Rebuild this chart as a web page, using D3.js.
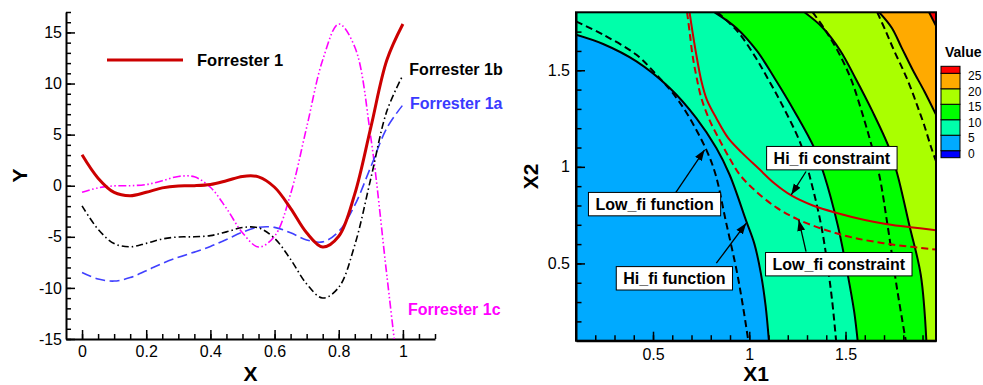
<!DOCTYPE html>
<html>
<head>
<meta charset="utf-8">
<script src="https://cdn.jsdelivr.net/npm/d3@7"></script>
<style>
  html, body { margin: 0; padding: 0; background: #fff; }
  svg { display: block; font-family: "Liberation Sans", Arial, Helvetica, sans-serif; }
</style>
</head>
<body>
<svg id="chart" width="983" height="385"></svg>
<script>
// ---------------- Forrester test functions (left panel) ----------------
const xValues = [0, 0.05, 0.1, 0.15, 0.2, 0.25, 0.3, 0.35, 0.4, 0.45, 0.5,
                 0.55, 0.6, 0.65, 0.7, 0.75, 0.8, 0.85, 0.9, 0.95, 1];
const forrester1  = [3.027, 0.738, -0.657, -0.978, -0.640, -0.210, -0.016, 0.002, 0.115, 0.483, 0.909,
                     0.871, -0.149, -2.209, -4.606, -5.993, -4.949, -0.799, 5.712, 12.303, 15.830];
const forrester1a = [-8.487, -9.131, -9.329, -8.989, -8.320, -7.605, -7.008, -6.499, -5.943, -5.259, -4.545,
                     -4.064, -4.075, -4.605, -5.303, -5.497, -4.475, -1.900, 1.856, 5.652, 7.915];
const forrester1b = [-1.973, -4.262, -5.657, -5.978, -5.640, -5.210, -5.016, -4.998, -4.885, -4.517, -4.091,
                     -4.129, -5.149, -7.209, -9.606, -10.993, -9.949, -5.799, 0.712, 7.303, 10.830];
const forrester1c = [-0.640, -0.210, -0.016, 0.002, 0.115, 0.483, 0.909, 0.871, -0.149, -2.209, -4.606,
                     -5.993, -4.949, -0.799, 5.712, 12.303, 15.830, 13.580, 4.717, -8.800, -22.380];
const yTicksLeft = [-15, -10, -5, 0, 5, 10, 15];
const xTicksLeft = [0, 0.2, 0.4, 0.6, 0.8, 1];

// ---------------- Contour panel: isolines in (X1, X2) ----------------
const hiFi5  = [[0.1,1.684],[0.241,1.636],[0.414,1.546],[0.587,1.408],[0.725,1.252],[0.829,1.097],
                [0.898,0.959],[0.984,0.72],[1.027,0.60],[1.06,0.45],[1.085,0.28],[1.102,0.1]];
const hiFi10 = [[0.82,1.8],[0.933,1.719],[1.04,1.60],[1.131,1.46],[1.235,1.287],[1.338,1.097],
                [1.39,0.955],[1.459,0.70],[1.51,0.45],[1.545,0.25],[1.563,0.1]];
const hiFi15 = [[1.287,1.8],[1.383,1.719],[1.474,1.60],[1.551,1.46],[1.64,1.287],[1.727,1.097],
                [1.77,0.959],[1.831,0.70],[1.891,0.44],[1.92,0.1]];
const hiFi20 = [[1.675,1.8],[1.74,1.72],[1.79,1.62],[1.85,1.50],[1.91,1.39],[1.97,1.27]];
const hiFi25 = [[1.934,1.8],[1.97,1.73]];

const loFi5  = [[0.1,1.753],[0.241,1.684],[0.414,1.58],[0.518,1.477],[0.60,1.385],[0.674,1.28],
                [0.777,1.088],[0.825,0.96],[0.878,0.72],[0.935,0.46],[0.967,0.28],[0.995,0.1]];
const loFi10 = [[0.835,1.8],[0.94,1.70],[1.035,1.563],[1.10,1.45],[1.166,1.33],[1.269,1.114],
                [1.312,0.959],[1.373,0.70],[1.425,0.354],[1.451,0.1]];
const loFi15 = [[1.33,1.8],[1.40,1.70],[1.47,1.58],[1.53,1.45],[1.58,1.30],[1.63,1.13],
                [1.675,0.959],[1.718,0.70],[1.77,0.354],[1.813,0.1]];
const loFi20 = [[1.665,1.8],[1.71,1.70],[1.753,1.60],[1.80,1.50],[1.839,1.408],[1.875,1.31],
                [1.908,1.218],[1.945,1.10],[1.97,1.03]];

const hiConstraint = [[0.69,1.8],[0.705,1.70],[0.725,1.58],[0.75,1.45],[0.78,1.347],[0.829,1.252],
                      [0.89,1.15],[0.96,1.075],[1.05,0.99],[1.13,0.915],[1.218,0.852],[1.33,0.80],
                      [1.459,0.76],[1.6,0.725],[1.718,0.703],[1.85,0.686],[1.97,0.672]];
const loConstraint = [[0.677,1.8],[0.69,1.70],[0.705,1.58],[0.725,1.47],[0.75,1.36],[0.79,1.25],
                      [0.84,1.15],[0.9,1.04],[0.95,0.96],[1.027,0.88],[1.14,0.79],[1.252,0.728],
                      [1.4,0.672],[1.546,0.632],[1.75,0.597],[1.97,0.572]];

const contourLevels = [0, 5, 10, 15, 20, 25];
const xTicksRight = [0.5, 1, 1.5];
const yTicksRight = [0.5, 1, 1.5];

const annotations = [
  { text: "Hi_fi constraint",  at: [1.429, 1.045], from: [1.295, 0.976], to: [1.218, 0.855] },
  { text: "Low_fi constraint", at: [1.465, 0.496], from: [1.295, 0.561], to: [1.257, 0.725] },
  { text: "Low_fi function",   at: [0.508, 0.807], from: [0.618, 0.867], to: [0.768, 1.088] },
  { text: "Hi_fi function",    at: [0.611, 0.423], from: [0.829, 0.501], to: [0.984, 0.708] }
];

// ======================================================================
const svg = d3.select("#chart");
const FONT = '"Liberation Sans", Arial, Helvetica, sans-serif';
const defs = svg.append("defs");

function styleAxis(g, size) {
  g.selectAll("text").attr("font-size", size).attr("font-family", FONT).attr("fill", "#000");
  g.selectAll(".tick line").attr("stroke", "#000").attr("stroke-width", 1.5);
  g.select(".domain").attr("stroke", "#000").attr("stroke-width", 2);
}

// ---------------- Left panel ----------------
const L = { left: 66, right: 435, top: 12, bottom: 339 };
const xL = d3.scaleLinear().domain([-0.05, 1.1]).range([L.left, L.right]);
const yL = d3.scaleLinear().domain([-15, 17]).range([L.bottom, L.top]);

defs.append("clipPath").attr("id", "clipL").append("rect")
  .attr("x", L.left).attr("y", L.top)
  .attr("width", L.right - L.left).attr("height", L.bottom - L.top);

const gL = svg.append("g");

// minor ticks
gL.append("g").attr("transform", `translate(${L.left},0)`)
  .call(d3.axisLeft(yL).tickValues(d3.range(-15, 18, 1)).tickSize(-5).tickFormat(""))
  .call(g => { g.select(".domain").remove(); g.selectAll("line").attr("stroke", "#000").attr("stroke-width", 1.5); });
gL.append("g").attr("transform", `translate(0,${L.bottom})`)
  .call(d3.axisBottom(xL).tickValues(d3.range(0, 23).map(i => i * 0.05)).tickSize(-5).tickFormat(""))
  .call(g => { g.select(".domain").remove(); g.selectAll("line").attr("stroke", "#000").attr("stroke-width", 1.5); });

// major ticks + labels
gL.append("g").attr("transform", `translate(${L.left},0)`)
  .call(d3.axisLeft(yL).tickValues(yTicksLeft).tickSize(-9).tickSizeOuter(0).tickPadding(4).tickFormat(d => String(d)))
  .call(g => styleAxis(g, 16));
gL.append("g").attr("transform", `translate(0,${L.bottom})`)
  .call(d3.axisBottom(xL).tickValues(xTicksLeft).tickSize(-9).tickSizeOuter(0).tickPadding(7).tickFormat(d => String(d)))
  .call(g => styleAxis(g, 16));

// axis titles
gL.append("text").attr("x", (L.left + L.right) / 2).attr("y", 380.5)
  .attr("text-anchor", "middle").attr("font-size", 21).attr("font-weight", "bold").text("X");
gL.append("text").attr("transform", `translate(26.5,${(L.top + L.bottom) / 2}) rotate(-90)`)
  .attr("text-anchor", "middle").attr("font-size", 21).attr("font-weight", "bold").text("Y");

const series = [
  { name: "Forrester 1c", values: forrester1c, color: "#ff00ff", width: 1.6, dash: "8,2.5,1.5,2.5,1.5,2.5" },
  { name: "Forrester 1a", values: forrester1a, color: "#4040ff", width: 1.6, dash: "10,4.5" },
  { name: "Forrester 1b", values: forrester1b, color: "#000000", width: 1.6, dash: "7,3,1.5,3" },
  { name: "Forrester 1",  values: forrester1,  color: "#cc0000", width: 3,   dash: null }
];
const lineL = d3.line()
  .x((d, i) => xL(xValues[i]))
  .y(d => yL(d))
  .curve(d3.curveCatmullRom.alpha(0.5));

const curves = gL.append("g").attr("clip-path", "url(#clipL)");
series.forEach(s => {
  curves.append("path")
    .attr("d", lineL(s.values))
    .attr("fill", "none")
    .attr("stroke", s.color)
    .attr("stroke-width", s.width)
    .attr("stroke-dasharray", s.dash)
    .attr("stroke-linejoin", "round");
});

// legend entry
gL.append("line").attr("x1", 107).attr("x2", 183).attr("y1", 60).attr("y2", 60)
  .attr("stroke", "#cc0000").attr("stroke-width", 3);
gL.append("text").attr("x", 197).attr("y", 66).attr("font-size", 16.5).attr("font-weight", "bold")
  .text("Forrester 1");

// curve tags
const tags = [
  { text: "Forrester 1b", x: 1.020, y: 10.84, color: "#000000" },
  { text: "Forrester 1a", x: 1.022, y: 7.51,  color: "#3a3aff" },
  { text: "Forrester 1c", x: 1.016, y: -12.65, color: "#ff00ff" }
];
tags.forEach(t => {
  gL.append("text").attr("x", xL(t.x)).attr("y", yL(t.y))
    .attr("font-size", 16).attr("font-weight", "bold").attr("fill", t.color).text(t.text);
});

// ---------------- Right panel ----------------
const R = { left: 576, right: 936, top: 12.3, bottom: 340.7 };
const xR = d3.scaleLinear().domain([0.1, 1.97]).range([R.left, R.right]);
const yR = d3.scaleLinear().domain([0.1, 1.8]).range([R.bottom, R.top]);
const [x1Min, x1Max] = xR.domain();
const [x2Min, x2Max] = yR.domain();

defs.append("clipPath").attr("id", "clipR").append("rect")
  .attr("x", R.left).attr("y", R.top)
  .attr("width", R.right - R.left).attr("height", R.bottom - R.top);

const bandColor = d3.scaleThreshold()
  .domain(contourLevels)
  .range(["#0000ff", "#00aaff", "#00ffaa", "#00ff00", "#aaff00", "#ffaa00", "#ff0000"]);

const lineR = d3.line().x(d => xR(d[0])).y(d => yR(d[1])).curve(d3.curveCatmullRom.alpha(0.5));

// region on the low side of an isoline, closed along the frame through the (x1Min, x2Min) corner
function lowerRegion(pts) {
  const start = pts[0], end = pts[pts.length - 1];
  const corners = [];
  if (Math.abs(end[0] - x1Max) < 1e-3) corners.push([x1Max, x2Min]);
  corners.push([x1Min, x2Min]);
  if (Math.abs(start[1] - x2Max) < 1e-3) corners.push([x1Min, x2Max]);
  return lineR(pts) + corners.map(c => `L${xR(c[0])},${yR(c[1])}`).join("") + "Z";
}

const gR = svg.append("g");
const plotR = gR.append("g").attr("clip-path", "url(#clipR)");

const hiLines = [
  { level: 25, pts: hiFi25 }, { level: 20, pts: hiFi20 }, { level: 15, pts: hiFi15 },
  { level: 10, pts: hiFi10 }, { level: 5, pts: hiFi5 }
];
const loLines = [loFi5, loFi10, loFi15, loFi20];
const maxLevel = contourLevels[contourLevels.length - 1];

// flood fill: highest band first, then each lower band on top
plotR.append("rect").attr("x", R.left).attr("y", R.top)
  .attr("width", R.right - R.left).attr("height", R.bottom - R.top)
  .attr("fill", bandColor(maxLevel + 1));
hiLines.forEach(c => {
  plotR.append("path").attr("d", lowerRegion(c.pts)).attr("fill", bandColor(c.level - 2.5));
});

// isolines
hiLines.forEach(c => {
  plotR.append("path").attr("d", lineR(c.pts)).attr("fill", "none")
    .attr("stroke", "#000").attr("stroke-width", 2);
});
loLines.forEach(pts => {
  plotR.append("path").attr("d", lineR(pts)).attr("fill", "none")
    .attr("stroke", "#000").attr("stroke-width", 2).attr("stroke-dasharray", "7,4");
});
plotR.append("path").attr("d", lineR(hiConstraint)).attr("fill", "none")
  .attr("stroke", "#cc0000").attr("stroke-width", 2);
plotR.append("path").attr("d", lineR(loConstraint)).attr("fill", "none")
  .attr("stroke", "#cc0000").attr("stroke-width", 2).attr("stroke-dasharray", "7,4");

// ticks (inward), labels
const tickStyle = g => { g.select(".domain").remove(); g.selectAll("line").attr("stroke", "#000").attr("stroke-width", 1.5); };
gR.append("g").attr("transform", `translate(${R.left},0)`)
  .call(d3.axisLeft(yR).tickValues(d3.range(2, 18).map(i => i / 10)).tickSize(-5.5).tickFormat(""))
  .call(tickStyle);
gR.append("g").attr("transform", `translate(0,${R.bottom})`)
  .call(d3.axisBottom(xR).tickValues(d3.range(2, 20).map(i => i / 10)).tickSize(-5.5).tickFormat(""))
  .call(tickStyle);
gR.append("g").attr("transform", `translate(${R.left},0)`)
  .call(d3.axisLeft(yR).tickValues(yTicksRight).tickSize(-9).tickSizeOuter(0).tickPadding(6).tickFormat(d => String(d)))
  .call(g => styleAxis(g, 16));
gR.append("g").attr("transform", `translate(0,${R.bottom})`)
  .call(d3.axisBottom(xR).tickValues(xTicksRight).tickSize(-9).tickSizeOuter(0).tickPadding(8).tickFormat(d => String(d)))
  .call(g => styleAxis(g, 16));

gR.append("rect").attr("x", R.left).attr("y", R.top)
  .attr("width", R.right - R.left).attr("height", R.bottom - R.top)
  .attr("fill", "none").attr("stroke", "#000").attr("stroke-width", 2);

gR.append("text").attr("x", (R.left + R.right) / 2).attr("y", 380.5)
  .attr("text-anchor", "middle").attr("font-size", 21).attr("font-weight", "bold").text("X1");
gR.append("text").attr("transform", `translate(538,${(R.top + R.bottom) / 2}) rotate(-90)`)
  .attr("text-anchor", "middle").attr("font-size", 21).attr("font-weight", "bold").text("X2");

// arrowhead
defs.append("marker").attr("id", "arrow")
  .attr("viewBox", "0 -5 10 10").attr("refX", 10).attr("refY", 0)
  .attr("markerUnits", "userSpaceOnUse").attr("markerWidth", 11).attr("markerHeight", 11)
  .attr("orient", "auto")
  .append("path").attr("d", "M0,-3.6L10,0L0,3.6Z").attr("fill", "#000");

annotations.forEach(a => {
  gR.append("line")
    .attr("x1", xR(a.from[0])).attr("y1", yR(a.from[1]))
    .attr("x2", xR(a.to[0])).attr("y2", yR(a.to[1]))
    .attr("stroke", "#000").attr("stroke-width", 1.3).attr("marker-end", "url(#arrow)");
});
annotations.forEach(a => {
  const g = gR.append("g").attr("transform", `translate(${xR(a.at[0])},${yR(a.at[1])})`);
  const rect = g.append("rect");
  const t = g.append("text").attr("text-anchor", "middle").attr("y", 6)
    .attr("font-size", 16).attr("font-weight", "bold").text(a.text);
  const w = t.node().getComputedTextLength() + 14;
  rect.attr("x", -w / 2).attr("y", -11.7).attr("width", w).attr("height", 23.4)
    .attr("fill", "#fff").attr("stroke", "#000").attr("stroke-width", 1);
});

// ---------------- Colour legend ----------------
const cbY = d3.scaleLinear().domain([0, 25]).range([150.7, 73.3]);
const cbX = 941, cbW = 19, cap = 7;
const gC = svg.append("g");
gC.append("text").attr("x", 945).attr("y", 56.7).attr("font-size", 14).attr("font-weight", "bold").text("Value");
const bands = [];
bands.push({ y0: cbY(contourLevels[0]) + cap, y1: cbY(contourLevels[0]), v: contourLevels[0] - 1 });
for (let i = 0; i < contourLevels.length - 1; i++) {
  bands.push({ y0: cbY(contourLevels[i]), y1: cbY(contourLevels[i + 1]), v: (contourLevels[i] + contourLevels[i + 1]) / 2 });
}
bands.push({ y0: cbY(maxLevel), y1: cbY(maxLevel) - cap, v: maxLevel + 1 });
gC.selectAll("rect.band").data(bands).join("rect").attr("class", "band")
  .attr("x", cbX).attr("width", cbW)
  .attr("y", d => d.y1).attr("height", d => d.y0 - d.y1)
  .attr("fill", d => bandColor(d.v)).attr("stroke", "#000").attr("stroke-width", 1);
gC.selectAll("text.lvl").data(contourLevels).join("text").attr("class", "lvl")
  .attr("x", 968).attr("y", d => cbY(d) + 7)
  .attr("font-size", 12).text(d => String(d));
</script>
</body>
</html>
